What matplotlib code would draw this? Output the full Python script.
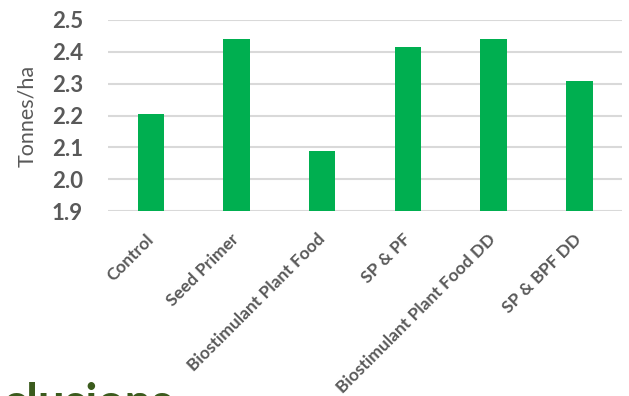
import matplotlib
matplotlib.use("Agg")
import matplotlib.pyplot as plt

categories = ["Control", "Seed Primer", "Biostimulant Plant Food", "SP & PF",
              "Biostimulant Plant Food DD", "SP & BPF DD"]
values = [2.205, 2.44, 2.09, 2.415, 2.44, 2.31]
yticks = [1.9, 2.0, 2.1, 2.2, 2.3, 2.4, 2.5]

plt.rcParams['font.family'] = ['Lato', 'DejaVu Sans']

W, H, DPI = 629, 396, 100
fig = plt.figure(figsize=(W / DPI, H / DPI), dpi=DPI)
ax = fig.add_axes([0.1717, 0.467, 0.989 - 0.1717, 0.9495 - 0.467])

x = list(range(len(categories)))
ax.bar(x, values, width=0.31, color="#00AF50", zorder=3)
ax.set_xlim(-0.5, len(categories) - 0.5)
ax.set_ylim(1.9, 2.5)
ax.set_yticks(yticks)
ax.set_yticklabels([f"{v:.1f}" for v in yticks], fontsize=16, fontweight='bold', color="#595959")
ax.set_xticks(x)
ax.set_xticklabels(categories, rotation=45, ha='right', va='center', rotation_mode='anchor',
                   fontsize=12.5, fontweight='bold', color="#595959")
ax.tick_params(axis='both', length=0)
ypad, xpad = 10.0, 10.0
ax.tick_params(axis='y', pad=ypad)
ax.tick_params(axis='x', pad=xpad)
ax.grid(axis='y', color="#d9d9d9", linewidth=1.5, zorder=0)
for s in ax.spines.values():
    s.set_visible(False)
ax.set_ylabel("Tonnes/ha", fontsize=15.5, color="#595959")
ax.yaxis.set_label_coords(-0.137, 0.5)

# calibrate label padding so label edges land where the reference shows them
fig.canvas.draw()
r = fig.canvas.get_renderer()
ylab = ax.get_yticklabels()[-1]
bb = ylab.get_window_extent(r)
target_right = 83
ypad += (bb.x1 - target_right) * 72 / DPI
xlab = ax.get_xticklabels()[0]
bb = xlab.get_window_extent(r)
target_top = H - 231
xpad += (bb.y1 - target_top) * 72 / DPI
ax.tick_params(axis='y', pad=ypad)
ax.tick_params(axis='x', pad=xpad)

fig.text(-0.13, -0.056, "Conclusions", fontsize=34, fontweight='bold',
         color="#3B5B1D", ha='left', va='baseline')

fig.savefig("out.png", dpi=DPI)
